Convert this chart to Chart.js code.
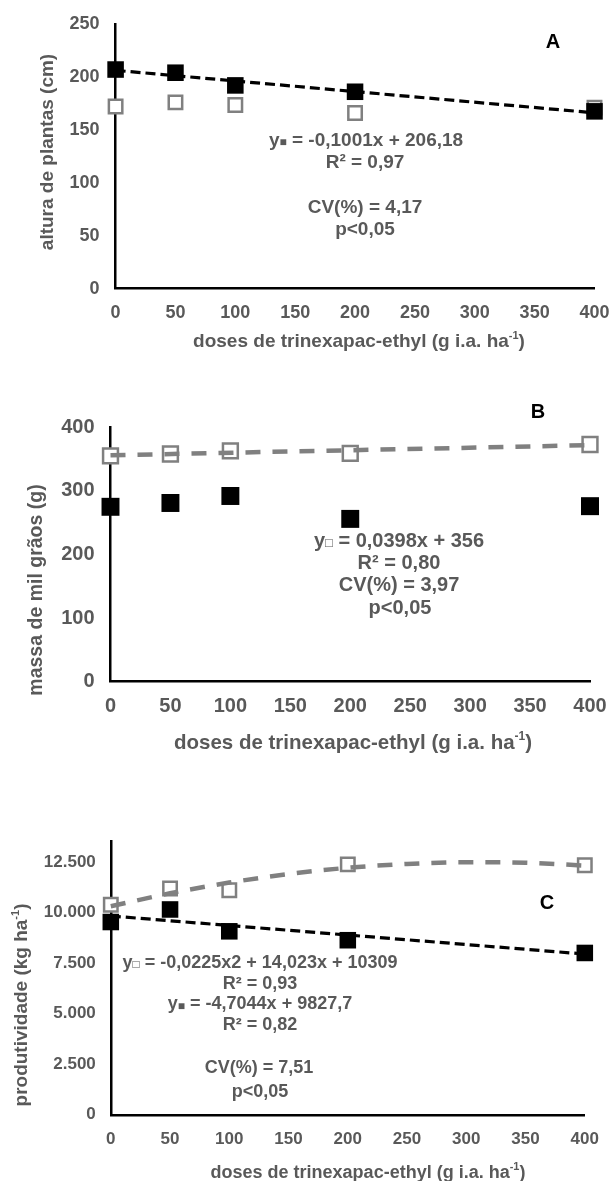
<!DOCTYPE html>
<html><head><meta charset="utf-8">
<script src="https://cdn.jsdelivr.net/npm/chart.js@4.4.1/dist/chart.umd.min.js"></script>
<style>
html,body{margin:0;padding:0;background:#fff;width:611px;height:1181px;overflow:hidden;}
canvas{position:absolute;left:0;display:block;}
</style></head><body>
<canvas id="cA" width="611" height="370" style="top:0px"></canvas>
<canvas id="cB" width="611" height="400" style="top:375px"></canvas>
<canvas id="cC" width="611" height="406" style="top:775px"></canvas>
<script>
// ---------------- DATA ----------------
const doses = [0, 50, 100, 200, 400];
const xTickValues = [0, 50, 100, 150, 200, 250, 300, 350, 400];

// Panel A - altura de plantas (cm)
const alturaFilled = [207, 204, 192, 186, 167.5];
const alturaOpen = [172, 176, 173.5, 166, 171];
const alturaTrendX = [0, 400];
const alturaTrendFilled = [206.2, 166.1];
const alturaYTicks = [0, 50, 100, 150, 200, 250];

// Panel B - massa de mil grãos (g)
const massaFilled = [275, 281, 292, 256, 276];
const massaOpen = [355, 358, 363, 359, 373];
const massaTrendX = [0, 400];
const massaTrendOpen = [356, 371.9];
const massaYTicks = [0, 100, 200, 300, 400];

// Panel C - produtividade (kg ha-1)
const prodFilled = [9530, 10150, 9070, 8630, 8000];
const prodOpen = [10380, 11190, 11100, 12380, 12340];
const prodTrendX = [0, 50, 100, 150, 200, 250, 300, 350, 400];
const prodTrendOpen = [10310, 10950, 11480, 11900, 12210, 12400, 12490, 12460, 12320];
const prodTrendFilledX = [0, 400];
const prodTrendFilled = [9828, 7946];
const prodYTicks = [0, 2500, 5000, 7500, 10000, 12500];

// Texts
const xTitle = ['doses de trinexapac-ethyl (g i.a. ha', '-1', ')'];
const yTitleA = 'altura de plantas (cm)';
const yTitleB = 'massa de mil grãos (g)';
const yTitleC = ['produtividade (kg ha', '-1', ')'];
const eqA = ['y', '■', ' = -0,1001x + 206,18'];
const notesA = ['R² = 0,97', 'CV(%) = 4,17', 'p<0,05'];
const eqB = ['y', '□', ' = 0,0398x + 356'];
const notesB = ['R² = 0,80', 'CV(%) = 3,97', 'p<0,05'];
const eqC1 = ['y', '□', ' = -0,0225x2 + 14,023x + 10309'];
const eqC2 = ['y', '■', ' = -4,7044x + 9827,7'];
const notesC = ['R² = 0,93', 'R² = 0,82', 'CV(%) = 7,51', 'p<0,05'];
const letters = ['A', 'B', 'C'];

// ---------------- STYLE ----------------
const FAMILY = "'Liberation Sans', Arial, Helvetica, sans-serif";
const TXT = '#595959';
const OPEN = '#808080';

function pts(xs, ys) { return xs.map((x, i) => ({x: x, y: ys[i]})); }

function drawRich(ctx, it) {
  ctx.save();
  ctx.translate(it.x, it.y);
  if (it.rotate) ctx.rotate(-Math.PI / 2);
  ctx.fillStyle = it.color || TXT;
  ctx.textBaseline = 'middle';
  ctx.textAlign = 'left';
  const segs = it.segs.map(s => typeof s === 'string' ? {t: s} : s);
  let total = 0;
  const ws = segs.map(s => {
    ctx.font = 'bold ' + (s.size || it.size) + 'px ' + FAMILY;
    const w = ctx.measureText(s.t).width;
    total += w;
    return w;
  });
  let cx = -total / 2;
  segs.forEach((s, i) => {
    ctx.font = 'bold ' + (s.size || it.size) + 'px ' + FAMILY;
    ctx.fillText(s.t, cx, s.dy || 0);
    cx += ws[i];
  });
  ctx.restore();
}

const textPlugin = {
  id: 'panelText',
  afterDraw(chart, args, opts) {
    (opts.items || []).forEach(it => drawRich(chart.ctx, it));
  }
};

function build(spec) {
  const canvas = document.getElementById(spec.id);
  const top = spec.top;
  const H = canvas.height;
  const tickFont = {family: FAMILY, size: spec.tickSize, weight: 'bold'};
  const items = spec.texts.map(t => Object.assign({}, t, {y: t.y - top}));
  new Chart(canvas, {
    type: 'scatter',
    data: {datasets: spec.datasets},
    options: {
      responsive: false,
      animation: false,
      devicePixelRatio: 1,
      layout: {padding: {top: spec.plotTop - top, right: 611 - spec.plotRight, left: 0, bottom: 0}},
      plugins: {legend: {display: false}, tooltip: {enabled: false}, panelText: {items: items}},
      scales: {
        x: {
          type: 'linear', min: 0, max: 400,
          afterBuildTicks: s => { s.ticks = xTickValues.map(v => ({value: v})); },
          ticks: {color: TXT, font: tickFont, padding: spec.xPad, maxRotation: 0, autoSkip: false},
          grid: {display: false, drawTicks: false},
          border: {display: true, color: '#000', width: 2.5},
          afterFit: s => { s.height = H - (spec.plotBottom - top); s.paddingLeft = 0; s.paddingRight = 0; }
        },
        y: {
          type: 'linear', min: 0, max: spec.yMax,
          afterBuildTicks: s => { s.ticks = spec.yTicks.map(v => ({value: v})); },
          ticks: {color: TXT, font: tickFont, padding: spec.yPad, autoSkip: false,
                  callback: v => spec.fmt ? spec.fmt(v) : String(v)},
          grid: {display: false, drawTicks: false},
          border: {display: true, color: '#000', width: 2.5},
          afterFit: s => { s.width = spec.plotLeft; s.paddingTop = 0; s.paddingBottom = 0; }
        }
      }
    },
    plugins: [textPlugin]
  });
}

function filledSet(data, r) {
  return {data: data, pointStyle: 'rect', pointRadius: r, backgroundColor: '#000', borderColor: '#000',
          borderWidth: 0, showLine: false, clip: false, order: 2};
}
function openSet(data, r) {
  return {data: data, pointStyle: 'rect', pointRadius: r, backgroundColor: '#fff', borderColor: OPEN,
          borderWidth: 2.5, showLine: false, clip: false, order: 3};
}
function trendSet(data, color, width, dash, tension) {
  return {data: data, type: 'line', showLine: true, pointRadius: 0, borderColor: color, borderWidth: width,
          borderDash: dash, fill: false, tension: tension || 0, cubicInterpolationMode: tension ? 'monotone' : 'default',
          clip: false, order: 1};
}

// Panel A
build({
  id: 'cA', top: 0, plotLeft: 115.6, plotRight: 594.5, plotTop: 24, plotBottom: 288.7,
  yMax: 250, yTicks: alturaYTicks, tickSize: 18, xPad: 14, yPad: 16,
  datasets: [
    trendSet(pts(alturaTrendX, alturaTrendFilled), '#000', 3.2, [10, 5]),
    filledSet(pts(doses, alturaFilled), 11.7),
    openSet(pts(doses, alturaOpen), 9.5)
  ],
  texts: [
    {segs: [letters[0]], x: 553, y: 42, size: 20, color: '#000'},
    {segs: [eqA[0], {t: eqA[1], size: 12, dy: 2}, eqA[2]], x: 366, y: 141, size: 19},
    {segs: [notesA[0]], x: 365, y: 163, size: 19},
    {segs: [notesA[1]], x: 365, y: 208, size: 19},
    {segs: [notesA[2]], x: 365, y: 230, size: 19},
    {segs: [xTitle[0], {t: xTitle[1], size: 11, dy: -6}, xTitle[2]], x: 359, y: 342, size: 19},
    {segs: [yTitleA], x: 48, y: 152, size: 19, rotate: true}
  ]
});

// Panel B
build({
  id: 'cB', top: 375, plotLeft: 110.5, plotRight: 590, plotTop: 427.3, plotBottom: 681.7,
  yMax: 400, yTicks: massaYTicks, tickSize: 20, xPad: 13, yPad: 16,
  datasets: [
    trendSet(pts(massaTrendX, massaTrendOpen), OPEN, 4.5, [15, 12]),
    filledSet(pts(doses, massaFilled), 12.7),
    openSet(pts(doses, massaOpen), 10.5)
  ],
  texts: [
    {segs: [letters[1]], x: 538, y: 412, size: 20, color: '#000'},
    {segs: [eqB[0], {t: eqB[1], size: 13, dy: 2}, eqB[2]], x: 399, y: 541, size: 20},
    {segs: [notesB[0]], x: 399, y: 563, size: 20},
    {segs: [notesB[1]], x: 399, y: 585, size: 20},
    {segs: [notesB[2]], x: 400, y: 608, size: 20},
    {segs: [xTitle[0], {t: xTitle[1], size: 12, dy: -6}, xTitle[2]], x: 353, y: 743, size: 20.5},
    {segs: [yTitleB], x: 37, y: 590, size: 19.5, rotate: true}
  ]
});

// Panel C
build({
  id: 'cC', top: 775, plotLeft: 110.8, plotRight: 584.8, plotTop: 841.7, plotBottom: 1114.8,
  yMax: 13500, yTicks: prodYTicks, tickSize: 17, xPad: 14, yPad: 15,
  fmt: v => v.toLocaleString('de-DE'),
  datasets: [
    trendSet(pts(prodTrendX, prodTrendOpen), OPEN, 4.5, [15, 12], 0.4),
    trendSet(pts(prodTrendFilledX, prodTrendFilled), '#000', 3.2, [10, 5]),
    filledSet(pts(doses, prodFilled), 11.7),
    openSet(pts(doses, prodOpen), 9.5)
  ],
  texts: [
    {segs: [letters[2]], x: 547, y: 903, size: 20, color: '#000'},
    {segs: [eqC1[0], {t: eqC1[1], size: 12, dy: 2}, eqC1[2]], x: 260, y: 963, size: 18},
    {segs: [notesC[0]], x: 260, y: 984, size: 18},
    {segs: [eqC2[0], {t: eqC2[1], size: 12, dy: 2}, eqC2[2]], x: 260, y: 1004.5, size: 18},
    {segs: [notesC[1]], x: 260, y: 1025.5, size: 18},
    {segs: [notesC[2]], x: 259, y: 1068, size: 18},
    {segs: [notesC[3]], x: 260, y: 1092.5, size: 18},
    {segs: [xTitle[0], {t: xTitle[1], size: 11, dy: -6}, xTitle[2]], x: 368, y: 1173, size: 18},
    {segs: [yTitleC[0], {t: yTitleC[1], size: 11, dy: -6}, yTitleC[2]], x: 22, y: 1005, size: 19, rotate: true}
  ]
});
</script>
</body></html>
